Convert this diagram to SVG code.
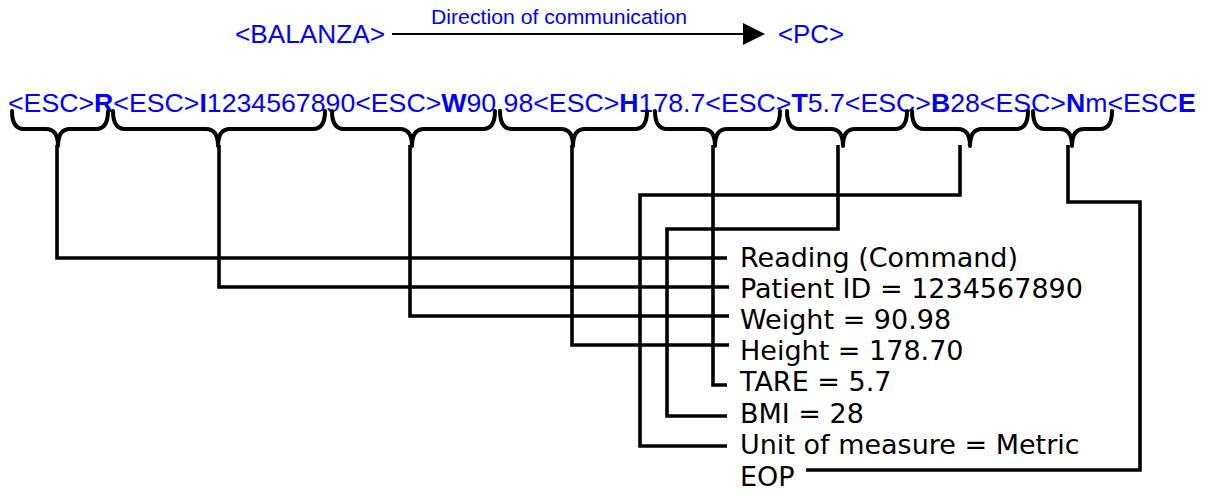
<svg xmlns="http://www.w3.org/2000/svg" width="1209" height="498" viewBox="0 0 1209 498">
<style>
.hdr{font-family:"Liberation Sans",Arial,sans-serif;fill:#0000FF;}
.code{font-family:"Liberation Sans",Arial,sans-serif;font-size:26.7px;fill:#0000FF;}
.b{font-weight:bold;}
.lbl{font-family:"DejaVu Sans",Verdana,sans-serif;font-size:27px;fill:#000;}
.brace{fill:none;stroke:#000;stroke-width:4;stroke-linejoin:round;stroke-linecap:round;}
.wire{fill:none;stroke:#000;stroke-width:3.6;stroke-linejoin:miter;stroke-linecap:butt;}
</style>
<rect width="1209" height="498" fill="#fff"/>
<g id="header">
<text class="hdr" x="235" y="43" font-size="25" textLength="150" lengthAdjust="spacingAndGlyphs">&lt;BALANZA&gt;</text>
<text class="hdr" x="431" y="24" font-size="21" textLength="256" lengthAdjust="spacingAndGlyphs">Direction of communication</text>
<text class="hdr" x="778" y="43" font-size="25" textLength="66" lengthAdjust="spacingAndGlyphs">&lt;PC&gt;</text>
</g>
<g id="direction-arrow">
<line x1="392" y1="34" x2="745" y2="34" stroke="#000" stroke-width="2"/>
<path d="M743,23 L765,34 L743,45 Z" fill="#000"/>
</g>
<g id="frame">
<text class="code" x="8" y="112">&lt;ESC&gt;<tspan class="b">R</tspan>&lt;ESC&gt;<tspan class="b">I</tspan>1234567890&lt;ESC&gt;<tspan class="b">W</tspan>90.98&lt;ESC&gt;<tspan class="b">H</tspan>178.7&lt;ESC&gt;<tspan class="b">T</tspan>5.7&lt;ESC&gt;<tspan class="b">B</tspan>28&lt;ESC&gt;<tspan class="b">N</tspan>m&lt;ESC<tspan class="b">E</tspan></text>
</g>
<g id="labels">
<text id="lbl-reading" class="lbl" x="740" y="267">Reading (Command)</text>
<text id="lbl-patient" class="lbl" x="740" y="298">Patient ID = 1234567890</text>
<text id="lbl-weight" class="lbl" x="740" y="329">Weight = 90.98</text>
<text id="lbl-height" class="lbl" x="740" y="360">Height = 178.70</text>
<text id="lbl-tare" class="lbl" x="740" y="391">TARE = 5.7</text>
<text id="lbl-bmi" class="lbl" x="740" y="423">BMI = 28</text>
<text id="lbl-unit" class="lbl" x="740" y="454">Unit of measure = Metric</text>
<text id="lbl-eop" class="lbl" x="740" y="486">EOP</text>
</g>
<g id="connectors">
<g id="braces">
<path class="brace" d="M12,111 Q12,129 24,129 H46 Q58,129 58,146 Q58,129 70,129 H96 Q108,129 108,111"/>
<path class="brace" d="M113,111 Q113,129 125,129 H206 Q218,129 218,146 Q218,129 230,129 H313 Q325,129 325,111"/>
<path class="brace" d="M332,111 Q332,129 344,129 H400 Q412,129 412,146 Q412,129 424,129 H483 Q495,129 495,111"/>
<path class="brace" d="M500,111 Q500,129 512,129 H561 Q573,129 573,146 Q573,129 585,129 H635 Q647,129 647,111"/>
<path class="brace" d="M655,111 Q655,129 667,129 H703 Q715,129 715,146 Q715,129 727,129 H768 Q780,129 780,111"/>
<path class="brace" d="M787,111 Q787,129 799,129 H831 Q843,129 843,146 Q843,129 855,129 H895 Q907,129 907,111"/>
<path class="brace" d="M912,111 Q912,129 924,129 H958 Q970,129 970,146 Q970,129 982,129 H1016 Q1028,129 1028,111"/>
<path class="brace" d="M1033,111 Q1033,129 1045,129 H1060 Q1072,129 1072,146 Q1072,129 1084,129 H1100 Q1112,129 1112,111"/>
</g>
<polyline class="wire" points="57,145 57,258 727,258"/>
<polyline class="wire" points="219,145 219,287 729,287"/>
<polyline class="wire" points="410,145 410,316 729,316"/>
<polyline class="wire" points="572,145 572,345 729,345"/>
<polyline class="wire" points="713,145 713,385 727,385"/>
<polyline class="wire" points="838,145 838,229 667,229 667,416 727,416"/>
<polyline class="wire" points="960,145 960,195 640,195 640,446 727,446"/>
<polyline class="wire" points="1068,145 1068,202 1140,202 1140,470 806,470"/>
</g>
</svg>
